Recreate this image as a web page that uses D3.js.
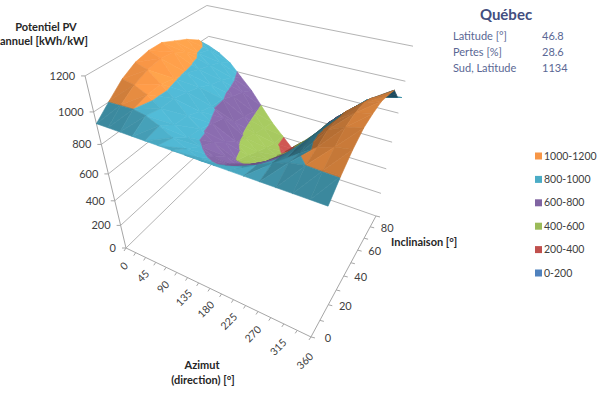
<!DOCTYPE html>
<html>
<head>
<meta charset="utf-8">
<script src="https://cdn.jsdelivr.net/npm/d3@7"></script>
<style>
  html, body { margin: 0; padding: 0; background: #fff; }
  text { font-family: Lato, "Noto Sans", sans-serif; }
</style>
</head>
<body>
<div id="chart"></div>
<script>
const width = 600;
const height = 393;

const azimuts = [0, 22.5, 45, 67.5, 90, 112.5, 135, 157.5, 180, 202.5, 225, 247.5, 270, 292.5, 315, 337.5, 360];
const inclinaisons = [0, 10, 20, 30, 40, 50, 60, 70, 80, 90];
const azLabels = [0, 45, 90, 135, 180, 225, 270, 315, 360];
const incLabels = [0, 20, 40, 60, 80];
const valLabels = [0, 200, 400, 600, 800, 1000, 1200];

// one row per inclinaison, one column per azimut [kWh/kW]
const potentiel = [
  [930, 930, 930, 930, 930, 930, 930, 930, 930, 930, 930, 930, 930, 930, 930, 930, 930],
  [1005, 1003, 1000, 985, 950, 905, 865, 835, 825, 840, 870, 910, 950, 985, 1000, 1003, 1005],
  [1075, 1060, 1025, 965, 890, 835, 805, 770, 750, 765, 800, 825, 880, 960, 1020, 1050, 1065],
  [1120, 1095, 1030, 965, 880, 820, 760, 695, 650, 700, 745, 800, 870, 970, 1045, 1085, 1105],
  [1140, 1110, 1010, 945, 845, 790, 690, 590, 570, 615, 680, 760, 850, 945, 1035, 1095, 1115],
  [1140, 1100, 990, 920, 815, 760, 620, 550, 520, 555, 615, 690, 800, 925, 1015, 1085, 1115],
  [1105, 1050, 960, 880, 805, 670, 575, 500, 470, 505, 590, 685, 790, 880, 960, 1050, 1090],
  [1070, 995, 935, 855, 765, 640, 540, 460, 425, 460, 545, 650, 770, 855, 930, 1000, 1060],
  [1020, 970, 905, 820, 735, 615, 515, 420, 380, 425, 520, 625, 740, 820, 900, 950, 960],
  [935, 900, 850, 770, 690, 590, 490, 410, 330, 420, 510, 620, 700, 780, 850, 880, 900],
];

const bandLabels = ['1000-1200', '800-1000', '600-800', '400-600', '200-400', '0-200'];
const bandLows = [1000, 800, 600, 400, 200, 0];
const bandColors = ['#f79646', '#4bacc6', '#8064a2', '#9bbb59', '#c0504d', '#4f81bd'];

const infoLabels = ['Latitude [°]', 'Pertes [%]', 'Sud, Latitude'];
const infoValues = ['46.8', '28.6', '1134'];

const uScale = d3.scaleLinear().domain([0, 360]).range([0, 1]);
const wScale = d3.scaleLinear().domain([0, 90]).range([0, 1]);
const hScale = d3.scaleLinear().domain([0, 1200]).range([0, 1]);

function depth(az, inc, val) {
  return 1 - 0.1687 * uScale(az) + 0.2248 * wScale(inc) - 0.244 * hScale(val);
}

// camera fitted on the corners of the box
function project(az, inc, val) {
  const u = uScale(az), w = wScale(inc), h = hScale(val);
  const d = depth(az, inc, val);
  return [
    (126 + 132.5 * u + 138.6 * w - 61.7 * h) / d,
    (248 + 32.1 * u - 52 * w - 190.6 * h) / d,
  ];
}

const svg = d3
  .select('#chart')
  .append('svg')
  .attr('width', width)
  .attr('height', height)
  .attr('viewBox', `0 0 ${width} ${height}`)
  .style('display', 'block');

const path3d = d3.line();

// walls
const grid = svg.append('g').attr('fill', 'none').attr('stroke', '#b4b4b4').attr('stroke-width', 1);
valLabels.forEach((v) => {
  grid.append('path').attr('d', path3d([project(0, 0, v), project(0, 90, v), project(360, 90, v)]));
});

// axes
const axes = svg.append('g').attr('fill', 'none').attr('stroke', '#a6a6a6').attr('stroke-width', 1);
axes.append('path').attr('d', path3d([project(0, 0, 1200), project(0, 0, 0), project(360, 0, 0), project(360, 90, 0)]));
valLabels.forEach((v) => {
  const p = project(0, 0, v);
  axes.append('path').attr('d', path3d([p, [p[0] - 4, p[1]]]));
});
azimuts.forEach((a) => {
  const p = project(a, 0, 0);
  axes.append('path').attr('d', path3d([p, [p[0] - 2, p[1] + 3]]));
});
inclinaisons.forEach((i) => {
  const p = project(360, i, 0);
  axes.append('path').attr('d', path3d([p, [p[0] + 4, p[1] + 1]]));
});

// keep the part of a triangle that lies inside a band
function clipBand(tri, lo, hi) {
  let poly = tri;
  [[lo, 1], [hi, -1]].forEach(([limit, sign]) => {
    const out = [];
    poly.forEach((a, k) => {
      const b = poly[(k + 1) % poly.length];
      const da = sign * (a[2] - limit);
      const db = sign * (b[2] - limit);
      if (da >= 0) out.push(a);
      if ((da >= 0) !== (db >= 0)) {
        const t = da / (da - db);
        out.push([a[0] + t * (b[0] - a[0]), a[1] + t * (b[1] - a[1]), a[2] + t * (b[2] - a[2])]);
      }
    });
    poly = out;
  });
  return poly;
}

function shadeOf(tri) {
  // plane normal in box units, light comes from the back right
  const [a, b, c] = tri.map((p) => [uScale(p[0]) * 1.2, wScale(p[1]) * 0.9, hScale(p[2])]);
  const e1 = [b[0] - a[0], b[1] - a[1], b[2] - a[2]];
  const e2 = [c[0] - a[0], c[1] - a[1], c[2] - a[2]];
  let n = [e1[1] * e2[2] - e1[2] * e2[1], e1[2] * e2[0] - e1[0] * e2[2], e1[0] * e2[1] - e1[1] * e2[0]];
  if (n[2] < 0) n = n.map((x) => -x);
  const len = Math.hypot(n[0], n[1], n[2]);
  const light = [0.6, 0.3, 0.74];
  const s = (n[0] * light[0] + n[1] * light[1] + n[2] * light[2]) / len;
  return Math.min(1.12, 0.52 + 0.58 * s);
}

function facingAway(tri) {
  const [a, b, c] = tri.map((p) => project(p[0], p[1], p[2]));
  return (b[0] - a[0]) * (c[1] - a[1]) - (b[1] - a[1]) * (c[0] - a[0]) > 0;
}

const facets = [];
inclinaisons.slice(1).forEach((inc, jj) => {
  azimuts.slice(1).forEach((az, ii) => {
    const az0 = azimuts[ii], inc0 = inclinaisons[jj];
    const p00 = [az0, inc0, potentiel[jj][ii]];
    const p10 = [az, inc0, potentiel[jj][ii + 1]];
    const p01 = [az0, inc, potentiel[jj + 1][ii]];
    const p11 = [az, inc, potentiel[jj + 1][ii + 1]];
    [[p00, p10, p11], [p00, p11, p01]].forEach((tri) => {
      const z = d3.mean(tri, (p) => depth(p[0], p[1], p[2]));
      facets.push({ tri, z });
    });
  });
});
facets.sort((a, b) => b.z - a.z);

const surface = svg.append('g');
facets.forEach(({ tri }) => {
  const f = shadeOf(tri);
  const away = facingAway(tri);
  bandLows.forEach((lo, k) => {
    const poly = clipBand(tri, lo, lo + 200);
    if (poly.length < 3) return;
    const c = d3.rgb(bandColors[k]);
    let col = d3.rgb(c.r * f, c.g * f, c.b * f);
    if (away && tri[0][0] > 315) col = d3.rgb('#1d4a5e');
    surface
      .append('path')
      .attr('d', path3d(poly.map((p) => project(p[0], p[1], p[2]))) + 'Z')
      .attr('fill', col)
      .attr('stroke', col)
      .attr('stroke-width', 0.6)
      .attr('stroke-linejoin', 'round');
  });
});

// tick labels
const labelColor = '#404040';
const valText = svg.append('g').attr('font-size', 11).attr('fill', labelColor).attr('text-anchor', 'end');
valLabels.forEach((v) => {
  const p = project(0, 0, v);
  valText.append('text').attr('x', p[0] - 10).attr('y', p[1] + 4).text(v);
});

const azText = svg.append('g').attr('font-size', 10.5).attr('fill', labelColor).attr('text-anchor', 'middle');
azLabels.forEach((a) => {
  const p = project(a, 0, 0);
  const u = uScale(a);
  azText
    .append('text')
    .attr('transform', `translate(${p[0] - 2 - 4 * u},${p[1] + 18 + 6 * u}) rotate(-45)`)
    .attr('dy', '0.35em')
    .text(a);
});

const incText = svg.append('g').attr('font-size', 11).attr('fill', labelColor).attr('text-anchor', 'middle');
incLabels.forEach((i) => {
  const p = project(360, i, 0);
  incText.append('text').attr('x', p[0] + 17).attr('y', p[1] + 1).attr('dy', '0.35em').text(i);
});

// axis titles
const titles = svg.append('g').attr('font-size', 11).attr('font-weight', 700).attr('fill', '#262626').attr('text-anchor', 'middle');
titles.append('text').attr('x', 46).attr('y', 31).text('Potentiel PV');
titles.append('text').attr('x', 44).attr('y', 45).text('annuel [kWh/kW]');
titles.append('text').attr('x', 391).attr('y', 246).attr('text-anchor', 'start').text('Inclinaison [°]');
titles.append('text').attr('x', 202).attr('y', 369).text('Azimut');
titles.append('text').attr('x', 203).attr('y', 384).text('(direction) [°]');

// info box
svg.append('text')
  .attr('x', 506).attr('y', 20)
  .attr('text-anchor', 'middle').attr('font-size', 15).attr('font-weight', 700).attr('fill', '#434e80')
  .text('Québec');
infoLabels.forEach((t, k) => {
  const y = 40 + k * 16;
  svg.append('text').attr('x', 453).attr('y', y).attr('font-size', 11).attr('fill', '#5a6794').text(t);
  svg.append('text').attr('x', 542).attr('y', y).attr('font-size', 11).attr('fill', '#5a6794').text(infoValues[k]);
});

// legend
const legendY = d3.scalePoint().domain(bandLabels).range([156, 273]);
const legend = svg.append('g');
bandLabels.forEach((t, k) => {
  legend.append('rect').attr('x', 535).attr('y', legendY(t) - 3.5).attr('width', 7).attr('height', 7).attr('fill', bandColors[k]);
  legend.append('text').attr('x', 544).attr('y', legendY(t)).attr('dy', '0.35em').attr('font-size', 10.5).attr('fill', labelColor).text(t);
});
</script>
</body>
</html>
